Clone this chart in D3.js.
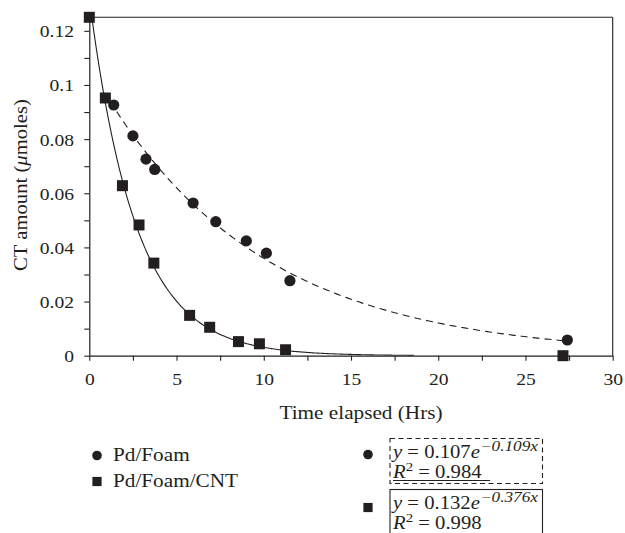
<!DOCTYPE html>
<html>
<head>
<meta charset="utf-8">
<script src="https://cdn.jsdelivr.net/npm/d3@7/dist/d3.min.js"></script>
<style>
  html, body { margin: 0; padding: 0; background: #fff; }
  svg { display: block; }
  text { font-family: "Liberation Serif", "Times New Roman", serif; fill: #231f20; }
</style>
</head>
<body>
<svg id="chart" width="625" height="533"></svg>
<script>
// ---- data ----
const foamTime = [1.4, 2.5, 3.25, 3.75, 5.95, 7.25, 9.0, 10.15, 11.5, 27.4];
const foamCT   = [0.0926, 0.0812, 0.0726, 0.0688, 0.0564, 0.0495, 0.0424, 0.0379, 0.0277, 0.0058];
const cntTime  = [0, 0.92, 1.9, 2.85, 3.7, 5.75, 6.9, 8.55, 9.75, 11.25, 27.15];
const cntCT    = [0.125, 0.0952, 0.0628, 0.0483, 0.0342, 0.0149, 0.0105, 0.0052, 0.0044, 0.0022, 0.0];
// exponential trendlines given in the legend: y = a * exp(b x), drawn over [from, to]
const foamFit = { a: 0.107, b: -0.109, r2: "0.984", from: 1.2, to: 27.4 };
const cntFit  = { a: 0.132, b: -0.376, r2: "0.998", from: 0, to: 18.6 };
const seriesNames = ["Pd/Foam", "Pd/Foam/CNT"];
const xTicks = [0, 5, 10, 15, 20, 25, 30];
const xMinor = [2.5, 7.5, 12.5, 17.5, 22.5, 27.5];
const yTicks = [0, 0.02, 0.04, 0.06, 0.08, 0.1, 0.12];
const yMinor = [0.01, 0.03, 0.05, 0.07, 0.09, 0.11];
const xLabel = "Time elapsed (Hrs)";

const INK = "#231f20";

const svg = d3.select("#chart");
svg.append("rect").attr("width", 625).attr("height", 533).attr("fill", "#fff");

const x = d3.scaleLinear().domain([0, 30]).range([89.3, 612.7]);
const y = d3.scaleLinear().domain([0, 0.125]).range([355.7, 17.3]);

// clip for plot area
svg.append("defs").append("clipPath").attr("id", "plotclip")
  .append("rect").attr("x", x.range()[0]).attr("y", y.range()[1])
  .attr("width", x.range()[1] - x.range()[0]).attr("height", y.range()[0] - y.range()[1]);

// frame (top & right)
svg.append("line").attr("x1", x(0)).attr("x2", x(30)).attr("y1", y(0.125)).attr("y2", y(0.125))
  .attr("stroke", INK).attr("stroke-width", 1.1);
svg.append("line").attr("x1", x(30)).attr("x2", x(30)).attr("y1", y(0.125)).attr("y2", y(0))
  .attr("stroke", INK).attr("stroke-width", 1.1);

// axes
const fmtY = d => d === 0 ? "0" : String(+d.toFixed(2));
const xAxis = svg.append("g").attr("transform", `translate(0,${y(0)})`)
  .call(d3.axisBottom(x).tickValues(xTicks).tickSize(5).tickSizeOuter(0).tickPadding(10).tickFormat(d3.format("d")));
const xAxisMinor = svg.append("g").attr("transform", `translate(0,${y(0)})`)
  .call(d3.axisBottom(x).tickValues(xMinor).tickSize(5).tickSizeOuter(0).tickFormat(""));
const yAxis = svg.append("g").attr("transform", `translate(${x(0)},0)`)
  .call(d3.axisLeft(y).tickValues(yTicks).tickSize(5).tickSizeOuter(0).tickFormat(fmtY));
const yAxisMinor = svg.append("g").attr("transform", `translate(${x(0)},0)`)
  .call(d3.axisLeft(y).tickValues(yMinor).tickSize(5).tickSizeOuter(0).tickFormat(""));

[xAxis, xAxisMinor, yAxis, yAxisMinor].forEach(g => {
  g.select(".domain").attr("stroke", INK).attr("stroke-width", 1.2);
  g.selectAll(".tick line").attr("stroke", INK).attr("stroke-width", 1.1);
  g.selectAll("text").attr("font-family", "Liberation Serif").attr("font-size", 17.5).attr("fill", INK);
});
xAxisMinor.select(".domain").remove();
yAxisMinor.select(".domain").remove();
xAxis.selectAll(".tick text").attr("y", null).attr("dy", null)
  .attr("transform", `translate(0,29) scale(1.12,1)`);
yAxis.selectAll(".tick text").attr("x", null).attr("dy", null)
  .attr("transform", `translate(-15.3,6) scale(1.12,1)`);

// axis titles
svg.append("text").attr("transform", `translate(361,419) scale(1.18,1)`)
  .attr("text-anchor", "middle").attr("font-size", 18).text(xLabel);
const yt = svg.append("text").attr("transform", `translate(27,185) rotate(-90) scale(1.15,1)`)
  .attr("text-anchor", "middle").attr("font-size", 18);
yt.append("tspan").text("CT amount (");
yt.append("tspan").attr("font-style", "italic").text("\u03bc");
yt.append("tspan").text("moles)");

// trendlines
const plot = svg.append("g").attr("clip-path", "url(#plotclip)");
function fitPoints(f) {
  const n = 200, pts = [];
  for (let i = 0; i <= n; i++) {
    const t = f.from + (f.to - f.from) * i / n;
    pts.push([t, f.a * Math.exp(f.b * t)]);
  }
  return pts;
}
const line = d3.line().x(d => x(d[0])).y(d => y(d[1]));
plot.append("path").attr("d", line(fitPoints(cntFit)))
  .attr("fill", "none").attr("stroke", INK).attr("stroke-width", 1.1);
plot.append("path").attr("d", line(fitPoints(foamFit)))
  .attr("fill", "none").attr("stroke", INK).attr("stroke-width", 1.1).attr("stroke-dasharray", "7,5");

// markers
const foam = foamTime.map((t, i) => ({ t, v: foamCT[i] }));
const cnt = cntTime.map((t, i) => ({ t, v: cntCT[i] }));
const SQ = 11;
svg.append("g").selectAll("circle").data(foam).join("circle")
  .attr("cx", d => x(d.t)).attr("cy", d => y(d.v)).attr("r", 5.6).attr("fill", INK);
svg.append("g").selectAll("rect").data(cnt).join("rect")
  .attr("x", d => x(d.t) - SQ / 2).attr("y", d => y(d.v) - SQ / 2)
  .attr("width", SQ).attr("height", SQ).attr("fill", INK);

// left legend
const leg = svg.append("g");
leg.append("circle").attr("cx", 97).attr("cy", 455.5).attr("r", 4.8).attr("fill", INK);
leg.append("text").attr("transform", "translate(113,461) scale(1.18,1)").attr("font-size", 18).text(seriesNames[0]);
leg.append("rect").attr("x", 97 - 4.6).attr("y", 481.5 - 4.6).attr("width", 9.2).attr("height", 9.2).attr("fill", INK);
leg.append("text").attr("transform", "translate(113,487) scale(1.18,1)").attr("font-size", 18).text(seriesNames[1]);

// right legend (trendline equations)
function eqBlock(f, top, dashed, marker, underline) {
  const g = svg.append("g");
  g.append("rect").attr("x", 390).attr("y", top).attr("width", 152.5).attr("height", dashed ? 45 : 60)
    .attr("fill", "none").attr("stroke", INK).attr("stroke-width", 1.1)
    .attr("stroke-dasharray", dashed ? "5,3.5" : null);
  if (marker === "circle") {
    g.append("circle").attr("cx", 368).attr("cy", top + 16).attr("r", 4.8).attr("fill", INK);
  } else {
    g.append("rect").attr("x", 368 - 4.6).attr("y", top + 18 - 4.6).attr("width", 9.2).attr("height", 9.2).attr("fill", INK);
  }
  const t1 = g.append("text").attr("transform", `translate(393,${top + 19}) scale(1.15,1)`).attr("font-size", 18);
  t1.append("tspan").attr("font-style", "italic").text("y");
  t1.append("tspan").text(" = " + f.a.toFixed(3));
  t1.append("tspan").attr("font-style", "italic").text("e");
  t1.append("tspan").attr("font-size", 15).attr("dy", -7).attr("font-style", "italic")
    .text("\u2212" + Math.abs(f.b).toFixed(3) + "x");
  const t2 = g.append("text").attr("transform", `translate(393,${top + 39.5}) scale(1.15,1)`).attr("font-size", 18);
  t2.append("tspan").attr("font-style", "italic").text("R");
  t2.append("tspan").attr("font-size", 13).attr("dy", -7).text("2");
  t2.append("tspan").attr("dy", 7).text(" = " + f.r2);
  if (underline) {
    g.append("line").attr("x1", 393).attr("x2", 490).attr("y1", top + 42).attr("y2", top + 42)
      .attr("stroke", INK).attr("stroke-width", 1);
  }
}
eqBlock(foamFit, 438.5, true, "circle", true);
eqBlock(cntFit, 489.5, false, "square", false);
</script>
</body>
</html>
